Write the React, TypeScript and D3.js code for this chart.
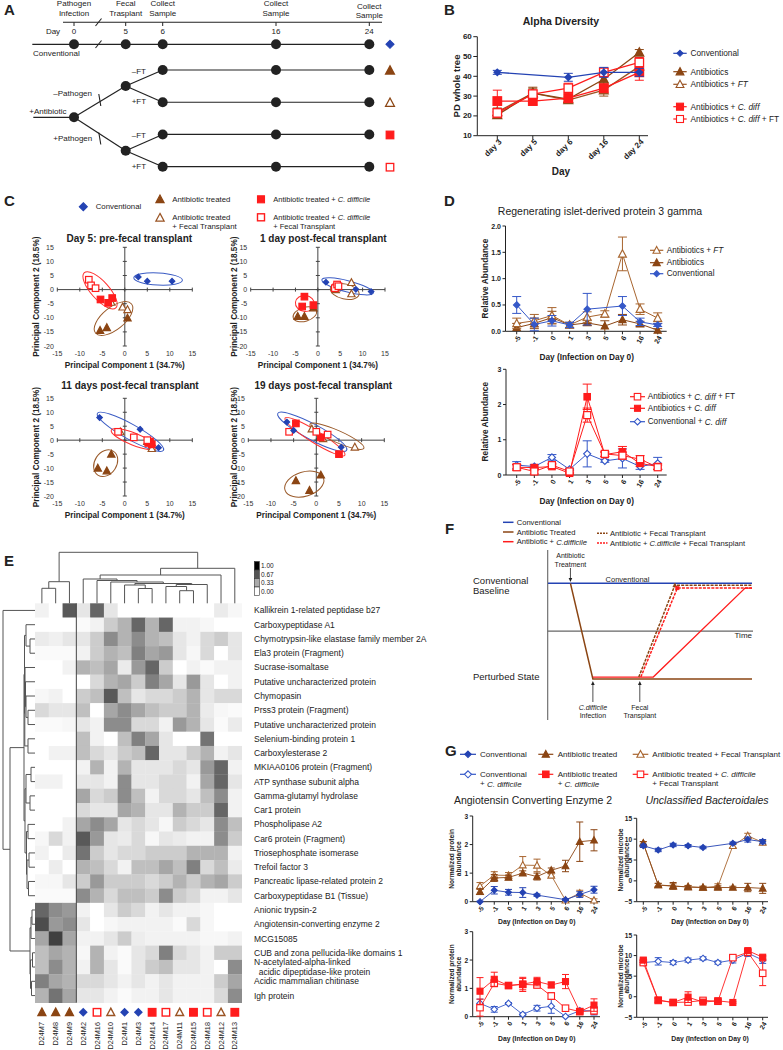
import React from 'react';
import * as d3 from 'd3';

const FONT = "'Liberation Sans', Arial, Helvetica, sans-serif";
const BLUE = '#2443b3';
const BLUE_L = '#3558c8';
const BROWN = '#8b4513';
const BROWN_H = '#a8652f';
const RED = '#ff1c1c';
const INK = '#222';
const GREY = '#666';

/* ================= Panel A ================= */
const aDays = [0, 5, 6, 16, 24];
const aEventLine1 = ['Pathogen', 'Fecal', 'Collect', 'Collect', 'Collect'];
const aEventLine2 = ['Infection', 'Trasplant', 'Sample', 'Sample', 'Sample'];
const aArms = ['–Pathogen', '+Pathogen'];
const aGroups = ['Antibiotics', 'Antibiotics + FT', 'Antibiotics + C. diff', 'Antibiotics + C. diff + FT'];
const aGroupArm = [0, 0, 1, 1];
const aBranchLabels = ['–FT', '+FT', '–FT', '+FT'];

/* ================= Panel B ================= */
const bDays = ['day 3', 'day 5', 'day 6', 'day 16', 'day 24'];
const bTicks = [10, 20, 30, 40, 50, 60];
const bConventional = [42, null, 39.5, 42, 42];
const bConventionalErr = [1, null, 2, 2.5, 2];
const bAntibiotics = [20.5, 31.5, 28.5, 38.5, 52];
const bAntibioticsErr = [1.5, 2.5, 1.5, 3, 1.5];
const bAntibioticsFT = [22, 31.5, 28, 33, 45];
const bAntibioticsFTErr = [2, 3, 1.5, 3, 3];
const bCdiff = [27.5, 27.5, 29, 34, 42];
const bCdiffErr = [5.5, 2, 2, 2, 4];
const bCdiffFT = [21.5, 31, 34, 42, 47];
const bCdiffFTErr = [2, 2, 2.5, 2, 2.5];

/* ================= Panel C ================= */
const cTitles = ['Day 5: pre-fecal transplant', '1 day post-fecal transplant', '11 days post-fecal transplant', '19 days post-fecal transplant'];
const cTicksX = [-15, -10, -5, 0, 5, 10, 15];
const cTicksY = [-20, -15, -10, -5, 0, 5, 10, 15];
const cConventional = [
  [[3, 4.5], [5, 3], [10.5, 3]],
  [[1.8, 2.6], [8.5, 0.1], [11.9, -0.7]],
  [[-5.6, 8.1], [3.4, 3.9], [7.5, -2.7]],
  [[-6.5, 6.5], [-5, 3.5], [5.5, -2.5]],
];
const cAntibiotic = [
  [[-5.5, -14.5], [-4, -13.5], [0.6, -10.1]],
  [[-4.5, -9.5], [-3, -9.5], [-1, -6.5]],
  [[-3, -5], [-6, -10], [-4, -11]],
  [[-4.5, -14.5], [-1.5, -18], [1, -12.5]],
];
const cAntibioticFT = [
  [[-3, -4.5], [-0.5, -6.2], [0.6, -7.1]],
  [[4, 0], [7.5, 2.5], [7.5, -1.5]],
  [[-1, 3], [5, -0.5], [6, -3]],
  [[-1, 4], [1.5, 0.5], [8.5, -2.5]],
];
const cCdiff = [
  [[-5.4, -3.5], [-3.7, -4.7], [-2.8, -3]],
  [[-3, -2.5], [-3.5, -6], [-1, -5.5]],
  [[5.2, -1], [5.6, -0.5], [6, -1.5]],
  [[-4.5, 6], [1, 1], [5, -5]],
];
const cCdiffFT = [
  [[-8, 3.5], [-7.5, 1.5], [-6.5, 0.5]],
  [[3.8, 0.5], [4.3, 1.8], [4.6, 1.2]],
  [[-1.5, 3], [2, 1], [5, 0]],
  [[-6, 3], [0, 3], [2.5, 2]],
];
// [group, x1, y1, x2, y2, aspect]  (major axis end points, minor/major ratio)
const cEllipses = [
  [['conv', 2, 4.2, 12.8, 3.3, 0.25], ['cd', -9, 6, -2, -6.5, 0.38], ['abx', -6.5, -15.4, 1.5, -5.1, 0.48]],
  [['conv', 0.9, 3.5, 12.4, -1.2, 0.21], ['cd', 3.2, 1.5, 5.2, 0.7, 1.05], ['abx', 2.8, 0.5, 9.2, -1.8, 0.51], ['cd', -5, -4.5, -0.8, -5.3, 0.84], ['abx', -5.5, -10, -0.3, -7.5, 0.57]],
  [['conv', -6.1, 9.6, 8.6, -3.6, 0.2], ['cd', -3, 3.6, 7, -2.9, 0.25], ['abx', -2.5, -4, -6, -12.5, 0.77]],
  [['conv', -8.5, 9.6, 6.7, -3.6, 0.2], ['cd', -6.9, 7.9, 6.3, -5.4, 0.17], ['abx', -1.4, 5.7, 10.5, -2.9, 0.2], ['abx', -6.9, -17.9, 1.6, -13.6, 0.6]],
];

/* ================= Panel D ================= */
const dDays = ['-5', '-1', '0', '1', '3', '5', '6', '16', '24'];
const dAbxFT = [0.15, 0.2, 0.3, 0.12, 0.27, 0.33, 1.47, 0.42, 0.25];
const dAbxFTErr = [0.1, 0.12, 0.15, 0.05, 0.1, 0.06, 0.32, 0.1, 0.1];
const dAbx = [0.07, 0.15, 0.26, 0.12, 0.16, 0.1, 0.22, 0.14, 0.02];
const dAbxErr = [0.08, 0.1, 0.12, 0.05, 0.05, 0.1, 0.1, 0.05, 0.03];
const dConv = [0.5, 0.13, 0.2, 0.12, 0.42, null, 0.48, 0.18, 0.12];
const dConvErr = [0.16, 0.12, 0.1, 0.05, 0.3, null, 0.18, 0.07, 0.03];
const dCdFT = [0.22, 0.1, 0.28, 0.1, 1.7, 0.6, 0.55, 0.45, 0.22];
const dCdFTErr = [0.08, 0.07, 0.05, 0.05, 0.2, 0.07, 0.1, 0.1, 0.06];
const dCd = [0.22, 0.21, 0.24, 0.05, 2.22, 0.58, 0.66, 0.33, 0.24];
const dCdErr = [0.08, 0.05, 0.05, 0.03, 0.36, 0.06, 0.15, 0.08, 0.08];
const dConvCd = [0.28, 0.24, 0.5, 0.16, 0.6, 0.4, 0.47, 0.24, 0.33];
const dConvCdErr = [0.1, 0.06, 0.08, 0.03, 0.37, 0.04, 0.27, 0.08, 0.17];

/* ================= Panel E ================= */
const eRows = [
  'Kallikrein 1-related peptidase b27', 'Carboxypeptidase A1', 'Chymotrypsin-like elastase family member 2A',
  'Ela3 protein (Fragment)', 'Sucrase-isomaltase', 'Putative uncharacterized protein', 'Chymopasin',
  'Prss3 protein (Fragment)', 'Putative uncharacterized protein', 'Selenium-binding protein 1', 'Carboxylesterase 2',
  'MKIAA0106 protein (Fragment)', 'ATP synthase subunit alpha', 'Gamma-glutamyl hydrolase', 'Car1 protein',
  'Phospholipase A2', 'Car6 protein (Fragment)', 'Triosephosphate isomerase', 'Trefoil factor 3',
  'Pancreatic lipase-related protein 2', 'Carboxypeptidase B1 (Tissue)', 'Anionic trypsin-2',
  'Angiotensin-converting enzyme 2', 'MCG15085', 'CUB and zona pellucida-like domains 1',
  'N-acetylated-alpha-linked\n  acidic dipeptidase-like protein', 'Acidic mammalian chitinase', 'Igh protein',
];
const eCols = ['D24M7', 'D24M8', 'D24M9', 'D24M2', 'D24M16', 'D24M10', 'D24M1', 'D24M3', 'D24M14', 'D24M17', 'D24M11', 'D24M15', 'D24M18', 'D24M12', 'D24M13'];
const eColGroup = ['abx', 'abx', 'abx', 'conv', 'cdFT', 'abxFT', 'conv', 'conv', 'cd', 'cdFT', 'abxFT', 'cd', 'cdFT', 'abxFT', 'cd'];
const eValues = [
  [0.05, 0, 0.65, 0.1, 0.6, 0.1, 0, 0, 0, 0, 0, 0, 0, 0.08, 0.03],
  [0, 0, 0, 0.02, 0.05, 0.2, 0.3, 0.6, 0.3, 0.6, 0.05, 0.05, 0.03, 0, 0],
  [0.08, 0.06, 0.1, 0.1, 0.2, 0.45, 0.3, 0.45, 0.3, 0.25, 0.1, 0.05, 0.15, 0.2, 0.1],
  [0.02, 0.02, 0.02, 0.05, 0.2, 0.3, 0.25, 0.5, 0.35, 0.4, 0.1, 0.03, 0.15, 0, 0.1],
  [0, 0, 0.05, 0.3, 0.25, 0.35, 0.08, 0.4, 0.6, 0.2, 0, 0.05, 0.02, 0.05, 0.05],
  [0, 0, 0, 0, 0.15, 0.3, 0.35, 0.2, 0.5, 0.35, 0.1, 0.4, 0.1, 0, 0.05],
  [0.03, 0.05, 0, 0.2, 0.25, 0.65, 0.25, 0.1, 0.15, 0.15, 0.2, 0.3, 0.1, 0.15, 0.15],
  [0.15, 0.1, 0.1, 0.25, 0, 0.35, 0.45, 0.35, 0.25, 0.2, 0.2, 0.3, 0.08, 0.03, 0.02],
  [0.02, 0.02, 0.03, 0.1, 0.05, 0.45, 0.45, 0.15, 0.15, 0.05, 0.4, 0.3, 0.1, 0.02, 0.08],
  [0, 0, 0, 0.25, 0.05, 0, 0.25, 0.5, 0.35, 0.1, 0, 0, 0.55, 0, 0],
  [0, 0.05, 0.05, 0.25, 0.15, 0.1, 0.2, 0.25, 0.6, 0.1, 0.1, 0.2, 0.3, 0.05, 0.1],
  [0, 0, 0, 0.05, 0.3, 0.05, 0.3, 0.1, 0.1, 0.1, 0.15, 0.1, 0.4, 0.6, 0.05],
  [0.05, 0.05, 0, 0.1, 0.1, 0.05, 0.45, 0.1, 0.1, 0.15, 0.15, 0.05, 0.35, 0.6, 0.1],
  [0, 0, 0, 0.35, 0.15, 0.2, 0.45, 0.25, 0.05, 0.15, 0.15, 0.1, 0.25, 0.45, 0.05],
  [0, 0, 0, 0.15, 0.1, 0.1, 0.35, 0.3, 0.1, 0.1, 0.3, 0.2, 0.2, 0.6, 0.05],
  [0, 0, 0.05, 0.35, 0.45, 0.35, 0.1, 0.15, 0.1, 0.03, 0.2, 0.15, 0.1, 0.45, 0.25],
  [0.03, 0.15, 0.05, 0.65, 0.4, 0.1, 0.08, 0.15, 0.03, 0.1, 0.08, 0.05, 0.05, 0.45, 0.2],
  [0.05, 0, 0.08, 0.55, 0.2, 0.1, 0.15, 0.15, 0.2, 0.2, 0.2, 0.3, 0.3, 0.3, 0.05],
  [0, 0.07, 0, 0.3, 0.25, 0.15, 0.05, 0.25, 0.25, 0.35, 0.25, 0.5, 0.15, 0.25, 0.08],
  [0.03, 0.03, 0.1, 0.2, 0.4, 0.2, 0.2, 0.2, 0.15, 0.2, 0.3, 0.2, 0.3, 0.35, 0.2],
  [0.02, 0.02, 0.02, 0.45, 0.3, 0.15, 0.25, 0.25, 0.2, 0.45, 0.2, 0.15, 0.05, 0.05, 0.1],
  [0.6, 0.45, 0.4, 0.05, 0, 0.1, 0.2, 0.15, 0.05, 0.1, 0.05, 0.05, 0.03, 0, 0],
  [0.7, 0.4, 0.45, 0.1, 0, 0.03, 0.05, 0.05, 0.05, 0.05, 0.02, 0.15, 0.03, 0, 0],
  [0.35, 0.75, 0.35, 0.05, 0.05, 0.1, 0.2, 0.07, 0.05, 0.05, 0.05, 0.05, 0.03, 0.03, 0.05],
  [0.25, 0.35, 0.3, 0.03, 0.3, 0.05, 0.02, 0.1, 0.15, 0.5, 0.15, 0.1, 0.05, 0.2, 0.2],
  [0.25, 0.45, 0.3, 0.05, 0.3, 0.1, 0.02, 0.1, 0.2, 0.25, 0.1, 0.1, 0.05, 0, 0.45],
  [0.5, 0.35, 0.3, 0.15, 0.15, 0.1, 0.05, 0.1, 0.05, 0.1, 0.05, 0.05, 0.05, 0.2, 0.35],
  [0.3, 0.55, 0.35, 0.1, 0.1, 0.05, 0.02, 0.05, 0.05, 0.1, 0.05, 0.05, 0.05, 0.15, 0.45],
];
const eLegendValues = [1, 0.67, 0.33, 0];
const eColTree = {
  d: 51, c: [
    { d: 21.6, c: [{ d: 15, c: [0, 1] }, 2] },
    { d: 35, c: [
      { d: 28.3, c: [
        { d: 24.3, c: [3, { d: 22.8, c: [4, { d: 21.3, c: [5, { d: 19.8, c: [
          { d: 18.3, c: [6, { d: 14.8, c: [7, 8] }] },
          { d: 18.8, c: [{ d: 16.8, c: [9, { d: 12.6, c: [10, 11] }] }, 12] },
        ] }] }] }] },
        13] },
      14] },
  ],
};
const eRowTree = {
  d: 32, c: [
    0,
    { d: 25, c: [
      { d: 11, c: [
        { d: 10.5, c: [
          { d: 9, c: [1, { d: 5, c: [2, 3] }] },
          { d: 10.2, c: [
            { d: 10, c: [4, { d: 9.5, c: [5, { d: 9, c: [6, { d: 7, c: [7, 8] }] }] }] },
            { d: 7, c: [9, 10] },
          ] },
        ] },
        { d: 10, c: [
          { d: 9, c: [{ d: 4, c: [11, 12] }, { d: 5, c: [13, 14] }] },
          { d: 8.5, c: [{ d: 7, c: [15, 16] }, { d: 8, c: [{ d: 6, c: [17, 18] }, { d: 6.5, c: [19, 20] }] }] },
        ] },
      ] },
      { d: 5, c: [
        { d: 4, c: [{ d: 3, c: [21, 22] }, 23] },
        { d: 4.5, c: [{ d: 2.5, c: [24, 25] }, { d: 3.5, c: [26, 27] }] },
      ] },
    ] },
  ],
};

/* ================= Panel F ================= */
const fConventional = [[0, 1], [10, 1]];
const fAntibiotic = [[1.1, 1], [2.2, 0], [10, 0]];
const fCdiff = [[2.2, 0.02], [5.16, 0.02], [9.66, 0.95], [10, 0.95]];
const fAbxFT = [[4.45, 0.02], [6.22, 0.98], [10, 0.98]];
const fCdiffFT = [[4.55, 0.02], [6.34, 0.95], [10, 0.95]];
const fEvents = [{ t: 1.1, l1: 'Antibiotic', l2: 'Treatment', it: false }, { t: 2.2, l1: 'C.difficile', l2: 'Infection', it: true }, { t: 4.5, l1: 'Fecal', l2: 'Transplant', it: false }];

/* ================= Panel G ================= */
const gDays = ['-5', '-1', '0', '1', '3', '5', '6', '16', '24'];
const gAceAbx = [0.35, 0.83, 0.85, 1.0, 0.88, 1.1, 1.25, 2.1, 2.15];
const gAceAbxErr = [0.1, 0.12, 0.08, 0.08, 0.12, 0.08, 0.2, 0.69, 0.37];
const gAceAbxFT = [0.55, 0.93, 0.92, 1.28, 1.27, 0.92, 0.05, 0.3, 0.05];
const gAceAbxFTErr = [0.12, 0.12, 0.1, 0.3, 0.22, 0.05, 0.05, 0.1, 0.05];
const gAceConv = [0.0, 0.4, 0.33, 0.32, 0.23, null, 0.07, 0.25, 0.42];
const gAceConvErr = [0.02, 0.13, 0.1, 0.17, 0.04, null, 0.03, 0.1, 0.12];
const gBacConv = [8.4, 7.4, 8.6, 8.4, 8.0, null, 9.0, 9.9, 9.4];
const gBacConvErr = [0.4, 0.4, 0.4, 0.3, 0.3, null, 0.3, 0.6, 0.5];
const gBacAbx = [9.0, -1.0, -1.2, -1.5, -1.6, -1.6, -1.6, -1.6, -1.8];
const gBacAbxErr = [0.4, 0.4, 0.8, 0.3, 0.3, 0.4, 0.3, 1.0, 1.2];
const gBacAbxFT = [9.0, -1.0, -1.3, -1.4, -1.6, -1.3, 8.4, 10.8, 9.2];
const gBacAbxFTErr = [0.4, 0.4, 0.6, 0.3, 0.3, 0.6, 0.4, 0.6, 0.5];
const gAceCd = [0.9, 1.32, 1.1, 1.15, 1.24, 1.12, 1.24, 0.18, 0.41];
const gAceCdErr = [0.48, 0.25, 0.05, 0.2, 0.15, 0.1, 0.25, 0.05, 0.22];
const gAceCdFT = [0.32, 1.18, 1.1, 1.14, 1.12, 0.73, 0.3, 0.18, 0.21];
const gAceCdFTErr = [0.3, 0.12, 0.05, 0.25, 0.1, 0.12, 0.03, 0.05, 0.12];
const gAceConvCd = [0.47, 0.26, 0.47, 0.08, 0.3, 0.37, 0.01, 0.21, 0.21];
const gAceConvCdErr = [0.15, 0.1, 0.03, 0.05, 0.1, 0.25, 0.02, 0.05, 0.15];
const gBacCd = [8.9, -0.8, -1.4, -0.1, -1.3, -1.0, -1.4, 11.2, 9.6];
const gBacCdErr = [0.5, 0.5, 0.3, 1.3, 0.3, 0.3, 0.2, 0.5, 0.4];
const gBacCdFT = [8.3, -0.9, -1.4, -1.3, -0.9, -1.1, 9.5, 10.8, 5.7];
const gBacCdFTErr = [0.5, 0.5, 0.3, 0.3, 0.3, 0.3, 0.4, 0.5, 3.0];
const gBacConvCd = [8.3, 8.6, 8.3, 8.9, 9.3, 8.3, 8.9, 10.6, 8.9];
const gBacConvCdErr = [0.5, 0.9, 0.5, 0.5, 0.4, 0.4, 0.7, 0.8, 0.8];

/* ================= helpers ================= */
function Marker({ x, y, type, filled, color, size = 7, sw = 1.1 }: any) {
  const s = size;
  const fill = filled ? color : '#fff';
  if (type === 'diamond') {
    const h = s / 2;
    return <polygon points={`${x},${y - h} ${x + h},${y} ${x},${y + h} ${x - h},${y}`} fill={fill} stroke={color} strokeWidth={sw} />;
  }
  if (type === 'triangle') {
    return <polygon points={`${x},${y - 0.55 * s} ${x + 0.52 * s},${y + 0.42 * s} ${x - 0.52 * s},${y + 0.42 * s}`} fill={fill} stroke={color} strokeWidth={sw} />;
  }
  if (type === 'dot') return <circle cx={x} cy={y} r={s / 2} fill={fill} />;
  const h = s / 2;
  return <rect x={x - h} y={y - h} width={s} height={s} fill={fill} stroke={color} strokeWidth={sw} />;
}

function Series({ xs, ys, cats, values, errs, color, type, filled, size = 7, cap = 8, lw = 1.1, sw = 1.1 }: any) {
  const lo = ys.domain()[0];
  const pts = cats.map((c: string, i: number) => ({ x: xs(c), v: values[i], e: errs ? errs[i] : null })).filter((p: any) => p.v != null);
  const line = d3.line<any>().x((p) => p.x).y((p) => ys(p.v));
  return (
    <g>
      <path d={line(pts) || ''} fill="none" stroke={color} strokeWidth={lw} />
      {pts.map((p: any, i: number) => {
        if (!p.e) return null;
        const top = ys(p.v + p.e);
        const bot = ys(Math.max(lo, p.v - p.e));
        return (
          <g key={'e' + i} stroke={color} strokeWidth={1}>
            <line x1={p.x} x2={p.x} y1={bot} y2={top} />
            <line x1={p.x - cap / 2} x2={p.x + cap / 2} y1={top} y2={top} />
            {p.v - p.e > lo ? <line x1={p.x - cap / 2} x2={p.x + cap / 2} y1={bot} y2={bot} /> : null}
          </g>
        );
      })}
      {pts.map((p: any, i: number) => <Marker key={i} x={p.x} y={ys(p.v)} type={type} filled={filled} color={color} size={size} sw={sw} />)}
    </g>
  );
}

function CatAxes({ xs, ys, cats, ax, axEnd, ticks, fmt, rot = -60, fs = 7, lblDy = 5, lblDx = 2, tickLen = 3, bold = true }: any) {
  const [d0, d1] = ys.domain();
  const y0 = ys(d0);
  return (
    <g fill={INK}>
      <line x1={ax} x2={ax} y1={y0} y2={ys(d1)} stroke={INK} strokeWidth={1} />
      {ticks.map((t: number) => (
        <g key={'t' + t}>
          <line x1={ax - tickLen} x2={ax} y1={ys(t)} y2={ys(t)} stroke={INK} />
          <text x={ax - tickLen - 1.5} y={ys(t)} textAnchor="end" dominantBaseline="central" fontSize={fs} fontWeight={bold ? 'bold' : 'normal'}>{fmt(t)}</text>
        </g>
      ))}
      <line x1={ax} x2={axEnd} y1={y0} y2={y0} stroke={INK} strokeWidth={1} />
      {cats.map((c: string) => (
        <g key={'c' + c}>
          <line x1={xs(c)} x2={xs(c)} y1={y0} y2={y0 + tickLen} stroke={INK} />
          <text transform={`translate(${xs(c) + lblDx},${y0 + lblDy}) rotate(${rot})`} textAnchor="end" dominantBaseline="central" fontSize={fs} fontWeight={bold ? 'bold' : 'normal'}>{c}</text>
        </g>
      ))}
    </g>
  );
}

function Label({ x, y, children, size = 8, anchor = 'start', weight = 'normal', italic = false, rotate = 0, fill = INK }: any) {
  return (
    <text
      x={rotate ? 0 : x}
      y={rotate ? 0 : y}
      transform={rotate ? `translate(${x},${y}) rotate(${rotate})` : undefined}
      fontSize={size}
      textAnchor={anchor}
      fontWeight={weight}
      fontStyle={italic ? 'italic' : 'normal'}
      dominantBaseline="central"
      fill={fill}
    >
      {children}
    </text>
  );
}

function LegendLine({ x1, x2, y, color, type, filled, size = 7, dash, lw = 1.2 }: any) {
  return (
    <g>
      <line x1={x1} x2={x2} y1={y} y2={y} stroke={color} strokeWidth={lw} strokeDasharray={dash} />
      {type ? <Marker x={(x1 + x2) / 2} y={y} type={type} filled={filled} color={color} size={size} /> : null}
    </g>
  );
}

const It = ({ children }: any) => <tspan fontStyle="italic">{children}</tspan>;

/* ================= Panels ================= */
function PanelA() {
  const x = d3.scaleLinear().domain(aDays).range([74, 125.7, 162.7, 276, 369.3]);
  const yConv = 44.3;
  const yRoot = 117.3;
  const yArm = d3.scalePoint<string>().domain(aArms).range([86, 150.7]);
  const yGrp = d3.scalePoint<string>().domain(aGroups).range([70, 166.7]);
  const dot = 5;
  const endMarks = [
    { type: 'triangle', filled: true, color: BROWN },
    { type: 'triangle', filled: false, color: BROWN },
    { type: 'square', filled: true, color: RED },
    { type: 'square', filled: false, color: RED },
  ];
  const sampleDays = aDays.slice(2);
  return (
    <g fill={INK} fontSize={8}>
      <Label x={4} y={9} size={15} weight="bold">A</Label>
      <line x1={63} x2={382} y1={22.3} y2={22.3} stroke={INK} strokeWidth={1.1} />
      {aDays.map((d, i) => (
        <g key={d}>
          <line x1={x(d)} x2={x(d)} y1={22.3} y2={26} stroke={INK} />
          <Label x={x(d)} y={31.5} anchor="middle">{d}</Label>
          <Label x={x(d)} y={i === 4 ? 6 : 3.8} anchor="middle">{aEventLine1[i]}</Label>
          <Label x={x(d)} y={i === 4 ? 15 : 13} anchor="middle">{aEventLine2[i]}</Label>
        </g>
      ))}
      <Label x={53} y={31.5} anchor="middle">Day</Label>
      <line x1={95.5} x2={101.5} y1={26} y2={18.5} stroke={INK} strokeWidth={1.1} />
      {/* conventional */}
      <line x1={32.3} x2={x(24)} y1={yConv} y2={yConv} stroke={INK} strokeWidth={1.2} />
      <line x1={95.5} x2={101.5} y1={48} y2={40.5} stroke={INK} strokeWidth={1.1} />
      {aDays.map((d) => <circle key={'c' + d} cx={x(d)} cy={yConv} r={dot} fill={INK} />)}
      <Label x={33} y={53.5}>Conventional</Label>
      <Marker x={390} y={yConv} type="diamond" filled color={BLUE} size={8} />
      {/* antibiotic tree */}
      <line x1={33.3} x2={x(0)} y1={yRoot} y2={yRoot} stroke={INK} strokeWidth={1.2} />
      <Label x={29.3} y={111.7}>+Antibiotic</Label>
      {aArms.map((a) => (
        <g key={a}>
          <line x1={x(0)} y1={yRoot} x2={x(5)} y2={yArm(a)} stroke={INK} strokeWidth={1.2} />
          <Label x={53.3} y={a === aArms[0] ? 93.3 : 138.3}>{a}</Label>
        </g>
      ))}
      <line x1={98.8} x2={100.8} y1={94} y2={106} stroke={INK} strokeWidth={1.1} />
      <line x1={98.8} x2={100.8} y1={132.5} y2={144.5} stroke={INK} strokeWidth={1.1} />
      {aGroups.map((g, i) => {
        const y = yGrp(g)!;
        const ya = yArm(aArms[aGroupArm[i]])!;
        return (
          <g key={g}>
            <line x1={x(5)} y1={ya} x2={x(6)} y2={y} stroke={INK} strokeWidth={1.2} />
            <line x1={x(6)} x2={x(24)} y1={y} y2={y} stroke={INK} strokeWidth={1.2} />
            {sampleDays.map((d) => <circle key={d} cx={x(d)} cy={y} r={dot} fill={INK} />)}
            <Label x={131.7} y={y + (i % 2 === 0 ? 1.5 : -0.5)}>{aBranchLabels[i]}</Label>
            <Marker x={390} y={y + 0.5} type={endMarks[i].type} filled={endMarks[i].filled} color={endMarks[i].color} size={endMarks[i].type === 'square' ? 7.5 : 8.5} sw={1.3} />
          </g>
        );
      })}
      {aArms.map((a) => <circle key={'n' + a} cx={x(5)} cy={yArm(a)} r={dot} fill={INK} />)}
      <circle cx={x(0)} cy={yRoot} r={dot} fill={INK} />
    </g>
  );
}

function PanelB() {
  const xs = d3.scalePoint<string>().domain(bDays).range([497.3, 639.3]);
  const ys = d3.scaleLinear().domain([10, 60]).range([135.7, 36.7]);
  const series = [
    { v: bAntibioticsFT, e: bAntibioticsFTErr, color: '#9a5424', t: 'triangle', f: false, s: 8.5 },
    { v: bAntibiotics, e: bAntibioticsErr, color: BROWN, t: 'triangle', f: true, s: 8.5 },
    { v: bCdiff, e: bCdiffErr, color: RED, t: 'square', f: true, s: 8.5 },
    { v: bCdiffFT, e: bCdiffFTErr, color: RED, t: 'square', f: false, s: 8.5 },
    { v: bConventional, e: bConventionalErr, color: BLUE, t: 'diamond', f: true, s: 6.5 },
  ];
  const lx1 = 673.3, lx2 = 686.7, tx = 690.5;
  return (
    <g fill={INK}>
      <Label x={444} y={9} size={15} weight="bold">B</Label>
      <Label x={561} y={20.7} size={10.5} weight="bold" anchor="middle">Alpha Diversity</Label>
      <CatAxes xs={xs} ys={ys} cats={bDays} ax={477.3} axEnd={648} ticks={bTicks} fmt={d3.format('d')} rot={-45} fs={8} lblDy={5} lblDx={3} tickLen={4} />
      <Label x={456.7} y={86} size={9.5} weight="bold" anchor="middle" rotate={-90}>PD whole tree</Label>
      <Label x={561} y={171.7} size={10} weight="bold" anchor="middle">Day</Label>
      {series.map((s, i) => (
        <Series key={i} xs={xs} ys={ys} cats={bDays} values={s.v} errs={s.e} color={s.color} type={s.t} filled={s.f} size={s.s} cap={9} lw={1.3} sw={1.3} />
      ))}
      <LegendLine x1={lx1} x2={lx2} y={53.3} color={BLUE} type="diamond" filled size={6} />
      <Label x={tx} y={53.3} size={8.3}>Conventional</Label>
      <LegendLine x1={lx1} x2={lx2} y={71.7} color={BROWN} type="triangle" filled size={7.5} />
      <Label x={tx} y={71.7} size={8.3}>Antibiotics</Label>
      <LegendLine x1={lx1} x2={lx2} y={84.3} color={'#9a5424'} type="triangle" filled={false} size={7.5} />
      <Label x={tx} y={84.3} size={8.3}>Antibiotics + <It>FT</It></Label>
      <LegendLine x1={lx1} x2={lx2} y={106.7} color={RED} type="square" filled size={7} />
      <Label x={tx} y={106.7} size={8.3}>Antibiotics + <It>C. diff</It></Label>
      <LegendLine x1={lx1} x2={lx2} y={119} color={RED} type="square" filled={false} size={7} />
      <Label x={tx} y={119} size={8.3}>Antibiotics + <It>C. diff</It> + FT</Label>
    </g>
  );
}

const cStyle: any = {
  conv: { type: 'diamond', filled: true, color: BLUE, size: 5.5, ell: '#3b5cc4' },
  abx: { type: 'triangle', filled: true, color: BROWN, size: 7, ell: '#9a5a2a' },
  abxFT: { type: 'triangle', filled: false, color: '#9a5424', size: 7, ell: '#9a5a2a' },
  cd: { type: 'square', filled: true, color: RED, size: 6.5, ell: '#ff3030' },
  cdFT: { type: 'square', filled: false, color: RED, size: 6.5, ell: '#ff3030' },
};

function PcaPlot({ idx, xr, yr, tx, ty, ylx }: any) {
  const xs = d3.scaleLinear().domain([-15, 15]).range(xr);
  const ys = d3.scaleLinear().domain([-20, 15]).range(yr);
  const x0 = xs(0), y0 = ys(0);
  const groups: [string, number[][]][] = [
    ['abx', cAntibiotic[idx]], ['abxFT', cAntibioticFT[idx]], ['cd', cCdiff[idx]], ['cdFT', cCdiffFT[idx]], ['conv', cConventional[idx]],
  ];
  return (
    <g>
      <Label x={tx} y={ty} size={10} weight="bold" anchor="middle">{cTitles[idx]}</Label>
      <line x1={xs(-15)} x2={xs(15)} y1={y0} y2={y0} stroke="#444" strokeWidth={1} />
      <line x1={x0} x2={x0} y1={ys(-20)} y2={ys(15)} stroke="#444" strokeWidth={1} />
      {cTicksX.map((t) => <line key={'tx' + t} x1={xs(t)} x2={xs(t)} y1={y0 - 2} y2={y0 + 2} stroke="#444" />)}
      {cTicksY.map((t) => <line key={'ty' + t} x1={x0 - 2} x2={x0 + 2} y1={ys(t)} y2={ys(t)} stroke="#444" />)}
      {cTicksX.map((t) => <Label key={'lx' + t} x={xs(t)} y={ys(-20) + 7} size={7} anchor="middle" fill="#333">{t}</Label>)}
      {cTicksY.map((t) => <Label key={'ly' + t} x={xs(-15) - 3.5} y={ys(t)} size={7} anchor="end" fill="#333">{t}</Label>)}
      <Label x={(xr[0] + xr[1]) / 2} y={ys(-20) + 19} size={8.2} weight="bold" anchor="middle">Principal Component 1 (34.7%)</Label>
      <Label x={ylx} y={(yr[0] + yr[1]) / 2} size={8.2} weight="bold" anchor="middle" rotate={-90}>Principal Component 2 (18.5%)</Label>
      {cEllipses[idx].map((e: any, i: number) => {
        const [g, x1, y1, x2, y2, asp] = e;
        const p1 = [xs(x1), ys(y1)], p2 = [xs(x2), ys(y2)];
        const cx = (p1[0] + p2[0]) / 2, cy = (p1[1] + p2[1]) / 2;
        const rx = Math.hypot(p2[0] - p1[0], p2[1] - p1[1]) / 2;
        const ang = (Math.atan2(p2[1] - p1[1], p2[0] - p1[0]) * 180) / Math.PI;
        return <ellipse key={'el' + i} cx={cx} cy={cy} rx={rx} ry={rx * asp} transform={`rotate(${ang},${cx},${cy})`} fill="none" stroke={cStyle[g].ell} strokeWidth={1} />;
      })}
      {groups.map(([g, pts]) => pts.map((p, i) => (
        <Marker key={g + i} x={xs(p[0])} y={ys(p[1])} type={cStyle[g].type} filled={cStyle[g].filled} color={cStyle[g].color} size={cStyle[g].size} sw={1.2} />
      )))}
    </g>
  );
}

function PanelC() {
  return (
    <g fill={INK}>
      <Label x={4} y={200} size={15} weight="bold">C</Label>
      <Marker x={83.3} y={206.7} type="diamond" filled color={BLUE} size={8} />
      <Label x={95.7} y={206.7} size={7.8}>Conventional</Label>
      <Marker x={160} y={199.3} type="triangle" filled color={BROWN} size={8} />
      <Label x={172.3} y={199.3} size={7.8}>Antibiotic treated</Label>
      <Marker x={160} y={217.8} type="triangle" filled={false} color={'#9a5424'} size={8} sw={1.2} />
      <Label x={172.3} y={217.3} size={7.8}>Antibiotic treated</Label>
      <Label x={172.3} y={226.7} size={7.8}>+ Fecal Transplant</Label>
      <Marker x={261} y={199.3} type="square" filled color={RED} size={7} />
      <Label x={273.3} y={199.3} size={7.5}>Antibiotic treated + <It>C. difficile</It></Label>
      <Marker x={261} y={217.3} type="square" filled={false} color={RED} size={7} sw={1.4} />
      <Label x={273.3} y={217.3} size={7.5}>Antibiotic treated + <It>C. difficile</It></Label>
      <Label x={273.3} y={226.7} size={7.5}>+ Fecal Transplant</Label>
      <PcaPlot idx={0} xr={[57.3, 192.3]} yr={[346, 247.3]} tx={129.3} ty={238.3} ylx={36.7} />
      <PcaPlot idx={1} xr={[250.7, 385]} yr={[346, 247.3]} tx={323.3} ty={238.3} ylx={234} />
      <PcaPlot idx={2} xr={[57.3, 192.3]} yr={[496, 398.3]} tx={130} ty={385} ylx={36.7} />
      <PcaPlot idx={3} xr={[248.3, 384.3]} yr={[496, 398.3]} tx={323.3} ty={385} ylx={234} />
    </g>
  );
}

function PanelD() {
  const xs = d3.scalePoint<string>().domain(dDays).range([516.7, 657.7]);
  const yTop = d3.scaleLinear().domain([0, 2]).range([331.3, 226]);
  const yBot = d3.scaleLinear().domain([0, 3]).range([475, 369.3]);
  const lx1 = 650, lx2 = 663.3, tx = 666.7;
  const bx1 = 630, bx2 = 645, btx = 647.7;
  return (
    <g fill={INK}>
      <Label x={444} y={200} size={15} weight="bold">D</Label>
      <Label x={600} y={210.5} size={10.5} anchor="middle">Regenerating islet-derived protein 3 gamma</Label>
      <CatAxes xs={xs} ys={yTop} cats={dDays} ax={505.5} axEnd={666.7} ticks={[0, 0.5, 1, 1.5, 2]} fmt={d3.format('.1f')} fs={7} />
      <Label x={485} y={278.5} size={8.4} weight="bold" anchor="middle" rotate={-90}>Relative Abundance</Label>
      <Label x={586.7} y={357.3} size={8.3} weight="bold" anchor="middle">Day (Infection on Day 0)</Label>
      <Series xs={xs} ys={yTop} cats={dDays} values={dAbx} errs={dAbxErr} color={BROWN} type="triangle" filled size={7} cap={9} lw={1} />
      <Series xs={xs} ys={yTop} cats={dDays} values={dAbxFT} errs={dAbxFTErr} color={BROWN_H} type="triangle" filled={false} size={7.5} cap={9} lw={1} sw={1.2} />
      <Series xs={xs} ys={yTop} cats={dDays} values={dConv} errs={dConvErr} color={BLUE_L} type="diamond" filled size={6.5} cap={9} lw={1} />
      <LegendLine x1={lx1} x2={lx2} y={250.3} color={BROWN_H} type="triangle" filled={false} size={7} />
      <Label x={tx} y={250.3} size={8.2}>Antibiotics + <It>FT</It></Label>
      <LegendLine x1={lx1} x2={lx2} y={262.7} color={BROWN} type="triangle" filled size={7} />
      <Label x={tx} y={262.7} size={8.2}>Antibiotics</Label>
      <LegendLine x1={lx1} x2={lx2} y={273.7} color={BLUE_L} type="diamond" filled size={6} />
      <Label x={tx} y={273.7} size={8.2}>Conventional</Label>

      <CatAxes xs={xs} ys={yBot} cats={dDays} ax={506} axEnd={666.7} ticks={[0, 1, 2, 3]} fmt={d3.format('d')} fs={7} />
      <Label x={485} y={421.7} size={8.4} weight="bold" anchor="middle" rotate={-90}>Relative Abundance</Label>
      <Label x={586.7} y={500.7} size={8.3} weight="bold" anchor="middle">Day (Infection on Day 0)</Label>
      <Series xs={xs} ys={yBot} cats={dDays} values={dConvCd} errs={dConvCdErr} color={BLUE_L} type="diamond" filled={false} size={7} cap={9} lw={1} sw={1.2} />
      <Series xs={xs} ys={yBot} cats={dDays} values={dCd} errs={dCdErr} color={RED} type="square" filled size={6.5} cap={9} lw={1} />
      <Series xs={xs} ys={yBot} cats={dDays} values={dCdFT} errs={dCdFTErr} color={RED} type="square" filled={false} size={7} cap={9} lw={1} sw={1.2} />
      <LegendLine x1={bx1} x2={bx2} y={396.7} color={RED} type="square" filled={false} size={6.5} />
      <Label x={btx} y={396.7} size={8.2}>Antibiotics + <It>C. diff</It> + FT</Label>
      <LegendLine x1={bx1} x2={bx2} y={408.3} color={RED} type="square" filled size={6} />
      <Label x={btx} y={408.3} size={8.2}>Antibiotics + <It>C. diff</It></Label>
      <LegendLine x1={bx1} x2={bx2} y={421.7} color={BLUE_L} type="diamond" filled={false} size={6.5} />
      <Label x={btx} y={421.7} size={8.2}>Conventional + <It>C. diff</It></Label>
    </g>
  );
}

function drawTree(node: any, leafPos: (i: number) => number, dPos: (d: number) => number, orient: 'row' | 'col', out: any[]): { p: number; d: number } {
  if (typeof node === 'number') return { p: leafPos(node), d: 0 };
  const kids = node.c.map((k: any) => drawTree(k, leafPos, dPos, orient, out));
  const first = kids[0].p, last = kids[kids.length - 1].p;
  const D = dPos(node.d);
  if (orient === 'row') {
    out.push(<line key={out.length} x1={D} x2={D} y1={first} y2={last} />);
    kids.forEach((k: any) => out.push(<line key={out.length} x1={D} x2={dPos(k.d)} y1={k.p} y2={k.p} />));
  } else {
    out.push(<line key={out.length} y1={D} y2={D} x1={first} x2={last} />);
    kids.forEach((k: any) => out.push(<line key={out.length} y1={D} y2={dPos(k.d)} x1={k.p} x2={k.p} />));
  }
  return { p: (first + last) / 2, d: node.d };
}

function PanelE() {
  const xs = d3.scaleBand<string>().domain(eCols).range([35, 241.7]);
  const ys = d3.scaleBand<number>().domain(d3.range(eRows.length)).range([603.3, 1002.7]);
  const color = d3.scaleLinear<string>().domain([0, 1]).range(['#ffffff', '#000000']);
  const rowD = d3.scaleLinear().domain([0, 32]).range([35, 3]);
  const colD = d3.scaleLinear().domain([0, 51]).range([603.3, 552.3]);
  const rowLines: any[] = [];
  drawTree(eRowTree, (i) => ys(i)! + ys.bandwidth() / 2, rowD, 'row', rowLines);
  const colLines: any[] = [];
  drawTree(eColTree, (i) => xs(eCols[i])! + xs.bandwidth() / 2, colD, 'col', colLines);
  const legY = d3.scaleBand<number>().domain(d3.range(eLegendValues.length)).range([561.5, 595.5]);
  return (
    <g fill={INK}>
      <Label x={4} y={560} size={15} weight="bold">E</Label>
      {eValues.map((row, r) => row.map((v, c) => (
        <rect key={r + '-' + c} x={xs(eCols[c])} y={ys(r)} width={xs.bandwidth() + 0.3} height={ys.bandwidth() + 0.3} fill={color(v)} />
      )))}
      <line x1={xs(eCols[3])} x2={xs(eCols[3])} y1={603.3} y2={1002.7} stroke="#444" strokeWidth={1} />
      <g stroke="#555" strokeWidth={1}>{rowLines}</g>
      <g stroke="#555" strokeWidth={1}>{colLines}</g>
      {eRows.map((lab, r) => {
        const lines = lab.split('\n');
        const cy = ys(r)! + ys.bandwidth() / 2;
        return lines.map((l, k) => (
          <Label key={r + 'l' + k} x={254} y={cy + (lines.length > 1 ? (k - 0.5) * 9.5 : 0)} size={8.5}>
            <tspan style={{ whiteSpace: 'pre' }}>{l}</tspan>
          </Label>
        ));
      })}
      {eLegendValues.map((v, i) => (
        <g key={'lg' + i}>
          <rect x={254.3} y={legY(i)} width={5} height={legY.bandwidth()} fill={color(v)} stroke="#333" strokeWidth={0.6} />
          <Label x={261} y={legY(i)! + legY.bandwidth() / 2} size={6.5}>{v.toFixed(2)}</Label>
        </g>
      ))}
      {eCols.map((c, i) => {
        const st = cStyle[eColGroup[i]];
        const cx = xs(c)! + xs.bandwidth() / 2;
        return (
          <g key={'col' + c}>
            <Marker x={cx} y={1012.3} type={st.type} filled={st.filled} color={st.color} size={st.type === 'diamond' ? 7 : 7.5} sw={1.4} />
            <Label x={cx} y={1022} size={7.3} anchor="end" rotate={-90}>{c}</Label>
          </g>
        );
      })}
    </g>
  );
}

function PanelF() {
  const xs = d3.scaleLinear().domain([0, 10]).range([548, 752]);
  const ys = d3.scaleLinear().domain([0, 1]).range([679, 583.3]);
  const line = d3.line<number[]>().x((p) => xs(p[0])).y((p) => ys(p[1]));
  const ax = 547.7;
  return (
    <g fill={INK}>
      <Label x={445} y={528.3} size={15} weight="bold">F</Label>
      {/* legend */}
      <LegendLine x1={503} x2={513.5} y={522.3} color={BLUE} lw={1.5} />
      <Label x={516.7} y={522.3} size={7.6}>Conventional</Label>
      <LegendLine x1={503} x2={513.5} y={532} color={BROWN} lw={1.5} />
      <Label x={516.7} y={532} size={7.6}>Antibiotic Treated</Label>
      <LegendLine x1={503} x2={513.5} y={541.7} color={RED} lw={1.5} />
      <Label x={516.7} y={541.7} size={7.6}>Antibiotic + <It>C.difficile</It></Label>
      <LegendLine x1={597} x2={607.5} y={533.3} color={BROWN} dash="2,1" lw={1.5} />
      <Label x={610} y={533.3} size={7.6}>Antibiotic + Fecal Transplant</Label>
      <LegendLine x1={597} x2={607.5} y={543} color={RED} dash="2,1" lw={1.5} />
      <Label x={610} y={543} size={7.6}>Antibiotic + <It>C.difficile</It> + Fecal Transplant</Label>
      {/* axes */}
      <line x1={ax} x2={ax} y1={550} y2={720} stroke={GREY} strokeWidth={1.1} />
      <line x1={ax} x2={753} y1={ys(0.5)} y2={ys(0.5)} stroke={GREY} strokeWidth={1.1} />
      <Label x={752} y={ys(0.5) + 4.5} size={8} anchor="end">Time</Label>
      <Label x={473} y={580.7} size={9.5}>Conventional</Label>
      <Label x={473} y={590.7} size={9.5}>Baseline</Label>
      <Label x={473} y={676.7} size={9.5}>Perturbed State</Label>
      {/* lines */}
      <path d={line(fConventional) || ''} fill="none" stroke={BLUE} strokeWidth={1.5} />
      <rect x={606} y={576} width={43} height={6} fill="#fff" />
      <Label x={627.5} y={579.5} size={7.5} anchor="middle">Conventional</Label>
      <path d={line(fAntibiotic) || ''} fill="none" stroke={BROWN} strokeWidth={1.5} />
      <path d={line(fCdiff) || ''} fill="none" stroke={RED} strokeWidth={1.3} />
      <path d={line(fAbxFT) || ''} fill="none" stroke={BROWN} strokeWidth={1.5} strokeDasharray="3,1.2" />
      <path d={line(fCdiffFT) || ''} fill="none" stroke={RED} strokeWidth={1.5} strokeDasharray="3,1.2" />
      <Marker x={xs(fAbxFT[1][0])} y={ys(fAbxFT[1][1])} type="triangle" filled color={BROWN} size={4} sw={0.5} />
      <Marker x={xs(fCdiffFT[1][0])} y={ys(fCdiffFT[1][1])} type="square" filled color={RED} size={3.5} sw={0.5} />
      {/* event annotations */}
      {fEvents.map((e, i) => {
        const x = xs(e.t);
        if (i === 0) {
          return (
            <g key={i}>
              <Label x={x} y={555} size={7} anchor="middle">{e.l1}</Label>
              <Label x={x} y={564.5} size={7} anchor="middle">{e.l2}</Label>
              <line x1={x} x2={x} y1={568} y2={579} stroke={INK} strokeWidth={0.8} />
              <path d={`M${x - 1.8},${578} L${x + 1.8},${578} L${x},${582} Z`} fill={INK} />
            </g>
          );
        }
        return (
          <g key={i}>
            <line x1={x} x2={x} y1={702} y2={684} stroke={INK} strokeWidth={0.8} />
            <path d={`M${x - 1.8},${685} L${x + 1.8},${685} L${x},${681} Z`} fill={INK} />
            <Label x={x} y={707} size={7} anchor="middle" italic={e.it}>{e.l1}</Label>
            <Label x={x} y={715.5} size={7} anchor="middle">{e.l2}</Label>
          </g>
        );
      })}
    </g>
  );
}

function PanelG() {
  const xl = d3.scalePoint<string>().domain(gDays).range([480, 594]);
  const xr = d3.scalePoint<string>().domain(gDays).range([643.3, 762.7]);
  const yLT = d3.scaleLinear().domain([0, 3]).range([901.7, 816]);
  const yRT = d3.scaleLinear().domain([-5, 15]).range([901.7, 818.3]);
  const yLB = d3.scaleLinear().domain([0, 3]).range([1016.7, 931.7]);
  const yRB = d3.scaleLinear().domain([-5, 15]).range([1017.3, 935]);
  const fd = d3.format('d');
  const cols = [[460, 476, 480], [538.3, 553.3, 557.7], [632.7, 648.3, 652.3]];
  const common = { cap: 7, lw: 0.9, sw: 1.1 };
  const axisLabels = (x0: number, yr: number[], l1: string, xc: number, yl: number) => (
    <g>
      <Label x={x0} y={(yr[0] + yr[1]) / 2} size={6.6} weight="bold" anchor="middle" rotate={-90}>{l1}</Label>
      <Label x={x0 + 6.8} y={(yr[0] + yr[1]) / 2} size={6.6} weight="bold" anchor="middle" rotate={-90}>abundance</Label>
      <Label x={xc} y={yl} size={6.8} weight="bold" anchor="middle">Day (Infection on Day 0)</Label>
    </g>
  );
  return (
    <g fill={INK}>
      <Label x={445} y={750} size={15} weight="bold">G</Label>
      <LegendLine x1={cols[0][0]} x2={cols[0][1]} y={754.3} color={BLUE} type="diamond" filled size={6.5} />
      <Label x={cols[0][2]} y={754.3} size={8}>Conventional</Label>
      <LegendLine x1={cols[1][0]} x2={cols[1][1]} y={754.3} color={BROWN} type="triangle" filled size={7} />
      <Label x={cols[1][2]} y={754.3} size={8}>Antibiotic treated</Label>
      <LegendLine x1={cols[2][0]} x2={cols[2][1]} y={754.3} color={BROWN_H} type="triangle" filled={false} size={7} />
      <Label x={cols[2][2]} y={754.3} size={8}>Antibiotic treated + Fecal Transplant</Label>
      <LegendLine x1={cols[0][0]} x2={cols[0][1]} y={774.3} color={BLUE_L} type="diamond" filled={false} size={7} />
      <Label x={cols[0][2]} y={774.3} size={8}>Conventional</Label>
      <Label x={cols[0][2]} y={783.7} size={8}>+ <It>C. difficile</It></Label>
      <LegendLine x1={cols[1][0]} x2={cols[1][1]} y={774.3} color={RED} type="square" filled size={6.5} />
      <Label x={cols[1][2]} y={774.3} size={8}>Antibiotic treated</Label>
      <Label x={cols[1][2]} y={783.7} size={8}>+ <It>C. difficile</It></Label>
      <LegendLine x1={cols[2][0]} x2={cols[2][1]} y={774.3} color={RED} type="square" filled={false} size={6.5} />
      <Label x={cols[2][2]} y={774.3} size={8}>Antibiotic treated + <It>C. difficile</It></Label>
      <Label x={cols[2][2]} y={783.7} size={8}>+ Fecal Transplant</Label>

      <Label x={533} y={799.5} size={10.5} anchor="middle">Angiotensin Converting Enzyme 2</Label>
      <Label x={707} y={799.5} size={10.5} anchor="middle" italic>Unclassified Bacteroidales</Label>

      {/* top left */}
      <CatAxes xs={xl} ys={yLT} cats={gDays} ax={472.7} axEnd={600} ticks={[0, 1, 2, 3]} fmt={fd} fs={6.6} lblDy={5} />
      {axisLabels(451.7, [901.7, 816], 'Normalized protein', 536.7, 921.7)}
      <Series xs={xl} ys={yLT} cats={gDays} values={gAceAbxFT} errs={gAceAbxFTErr} color={BROWN_H} type="triangle" filled={false} size={6.5} {...common} />
      <Series xs={xl} ys={yLT} cats={gDays} values={gAceAbx} errs={gAceAbxErr} color={BROWN} type="triangle" filled size={6.5} {...common} />
      <Series xs={xl} ys={yLT} cats={gDays} values={gAceConv} errs={gAceConvErr} color={BLUE} type="diamond" filled size={6} {...common} />
      {/* top right */}
      <CatAxes xs={xr} ys={yRT} cats={gDays} ax={636.7} axEnd={768} ticks={[-5, 0, 5, 10, 15]} fmt={fd} fs={6.6} lblDy={5} />
      {axisLabels(620, [901.7, 818.3], 'Normalized microbe', 710, 921.7)}
      <Series xs={xr} ys={yRT} cats={gDays} values={gBacAbxFT} errs={gBacAbxFTErr} color={BROWN_H} type="triangle" filled={false} size={6.5} {...common} />
      <Series xs={xr} ys={yRT} cats={gDays} values={gBacAbx} errs={gBacAbxErr} color={BROWN} type="triangle" filled size={6.5} {...common} />
      <Series xs={xr} ys={yRT} cats={gDays} values={gBacConv} errs={gBacConvErr} color={BLUE} type="diamond" filled size={6} {...common} />
      {/* bottom left */}
      <CatAxes xs={xl} ys={yLB} cats={gDays} ax={472.7} axEnd={600} ticks={[0, 1, 2, 3]} fmt={fd} fs={6.6} lblDy={5} />
      {axisLabels(451.7, [1016.7, 931.7], 'Normalized protein', 536.7, 1038.3)}
      <Series xs={xl} ys={yLB} cats={gDays} values={gAceConvCd} errs={gAceConvCdErr} color={BLUE_L} type="diamond" filled={false} size={6.5} {...common} />
      <Series xs={xl} ys={yLB} cats={gDays} values={gAceCdFT} errs={gAceCdFTErr} color={RED} type="square" filled={false} size={6.5} {...common} />
      <Series xs={xl} ys={yLB} cats={gDays} values={gAceCd} errs={gAceCdErr} color={RED} type="square" filled size={6} {...common} />
      {/* bottom right */}
      <CatAxes xs={xr} ys={yRB} cats={gDays} ax={636.7} axEnd={768} ticks={[-5, 0, 5, 10, 15]} fmt={fd} fs={6.6} lblDy={5} />
      {axisLabels(620, [1017.3, 935], 'Normalized microbe', 710, 1038.3)}
      <Series xs={xr} ys={yRB} cats={gDays} values={gBacConvCd} errs={gBacConvCdErr} color={BLUE_L} type="diamond" filled={false} size={6.5} {...common} />
      <Series xs={xr} ys={yRB} cats={gDays} values={gBacCdFT} errs={gBacCdFTErr} color={RED} type="square" filled={false} size={6.5} {...common} />
      <Series xs={xr} ys={yRB} cats={gDays} values={gBacCd} errs={gBacCdErr} color={RED} type="square" filled size={6} {...common} />
    </g>
  );
}

export default function App() {
  return (
    <svg
      width={783}
      height={1050}
      viewBox="0 0 783 1050"
      style={{ position: 'absolute', left: 0, top: 0, display: 'block', background: '#fff' }}
      fontFamily={FONT}
    >
      <rect width={783} height={1050} fill="#fff" />
      <PanelA />
      <PanelB />
      <PanelC />
      <PanelD />
      <PanelE />
      <PanelF />
      <PanelG />
    </svg>
  );
}
